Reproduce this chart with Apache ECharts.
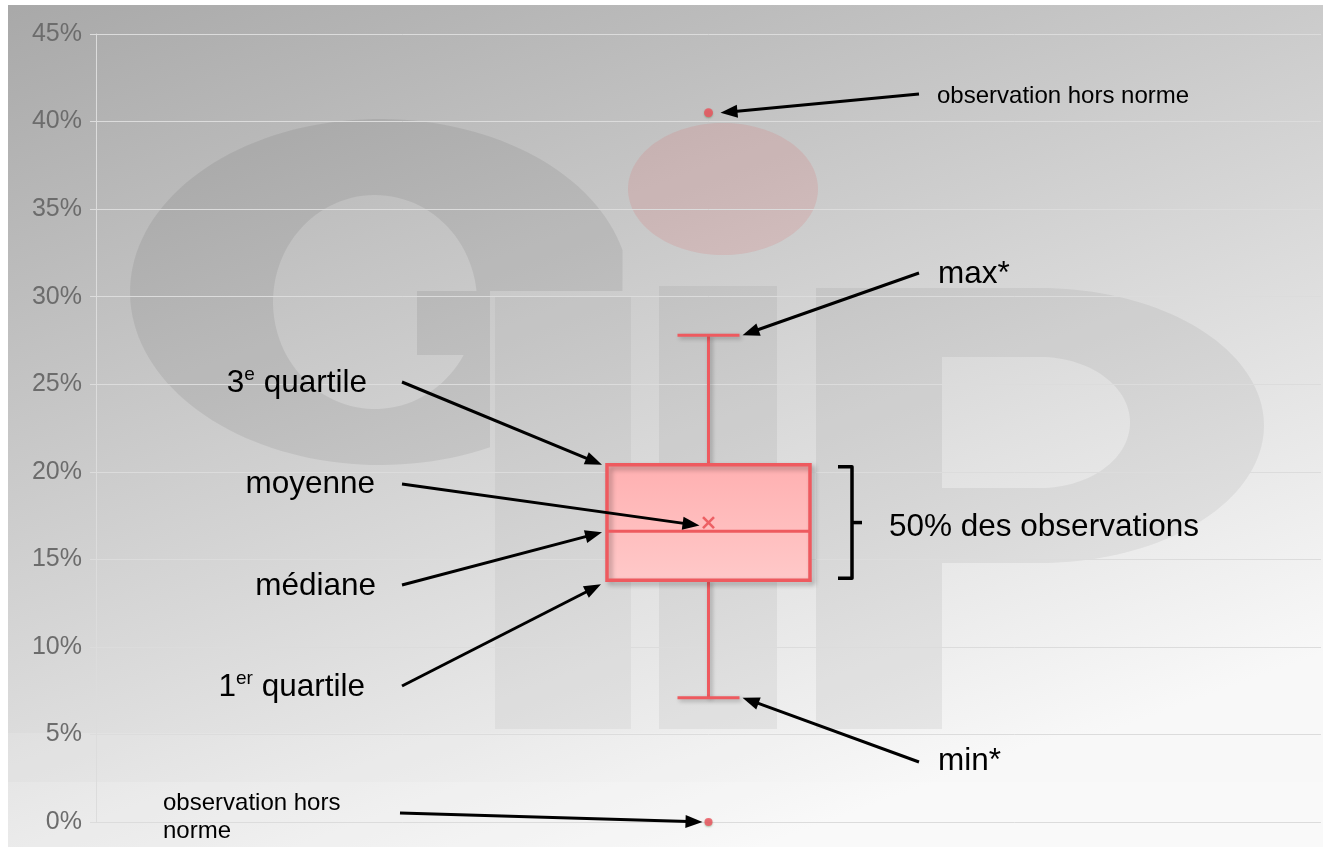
<!DOCTYPE html>
<html><head><meta charset="utf-8">
<script src="https://cdn.jsdelivr.net/npm/echarts@6/dist/echarts.min.js"></script>
<style>html,body{margin:0;padding:0;background:#fff}#c{width:1323px;height:847px}</style>
</head><body><div id="c"></div>
<script>
// ---- data ----
const categories = ['Série'];
const boxStats = [[7.1, 13.8, 16.6, 20.4, 27.8]];   // min, Q1, médiane, Q3, max
const meanValues = [17.1];
const outlierValues = [40.5, 0];
const yTickValues = [0, 5, 10, 15, 20, 25, 30, 35, 40, 45];
const yTickLabels = ['0%', '5%', '10%', '15%', '20%', '25%', '30%', '35%', '40%', '45%'];

// ---- style ----
const RED = '#ee5a5f';
const BOX_W = 203, CAP_W = 62;
const FONT = '"Liberation Sans", Arial, sans-serif';

// custom shape for the watermark (multi-contour polygon with holes, nonzero winding)
const Contours = echarts.graphic.extendShape({
  shape: {contours: []},
  buildPath: function (ctx, shape) {
    shape.contours.forEach(function (c) {
      c.forEach(function (p, i) { if (i) ctx.lineTo(p[0], p[1]); else ctx.moveTo(p[0], p[1]); });
      ctx.closePath();
    });
  }
});
echarts.graphic.registerShape('contours', Contours);

const chart = echarts.init(document.getElementById('c'), null, {renderer: 'canvas'});

function ellPts(cx, cy, rx, ry, t0, t1, n) {
  const pts = [];
  for (let i = 0; i <= n; i++) {
    const t = t0 + (t1 - t0) * i / n;
    pts.push([cx + rx * Math.cos(t), cy + ry * Math.sin(t)]);
  }
  return pts;
}
const gOuter = ellPts(380, 292, 250, 173, -0.2452, 1.115 - 2 * Math.PI, 120).concat([[490, 291], [622.5, 291]]);
const gHole = ellPts(375, 302, 102, 107, 0.518, 2 * Math.PI - 0.103, 100).concat([[417, 291], [417, 355]]);
const pOuter = [[816, 288]].concat(ellPts(1040, 425.5, 224, 137.5, -Math.PI / 2, Math.PI / 2, 80)).concat([[942, 563], [942, 729], [816, 729]]);
const pHole = [[942, 357], [942, 488]].concat(ellPts(1040, 422.5, 90, 65.5, Math.PI / 2, -Math.PI / 2, 60));

const bgGraphics = [
  {type: 'rect', z: -20, silent: true, shape: {x: 8, y: 5, width: 1315, height: 842},
   style: {fill: new echarts.graphic.LinearGradient(0, 0, 371, 1005, [
     {offset: 0, color: '#a8a8a8'}, {offset: 1, color: '#f8f8f8'}], true)}},
  {type: 'contours', z: -19, silent: true, shape: {contours: [gOuter, gHole]}, style: {fill: 'rgba(0,0,0,0.07)'}},
  {type: 'contours', z: -19, silent: true, shape: {contours: [pOuter, pHole]}, style: {fill: 'rgba(0,0,0,0.055)'}},
  {type: 'rect', z: -19, silent: true, shape: {x: 659, y: 286, width: 118, height: 443}, style: {fill: 'rgba(0,0,0,0.05)'}},
  {type: 'rect', z: -19, silent: true, shape: {x: 495, y: 297, width: 136, height: 432}, style: {fill: 'rgba(0,0,0,0.04)'}},
  {type: 'ellipse', z: -19, silent: true, shape: {cx: 723, cy: 189, rx: 95, ry: 66}, style: {fill: 'rgba(233,60,60,0.12)'}},
  {type: 'rect', z: -18, silent: true, shape: {x: 8, y: 733, width: 1315, height: 114}, style: {fill: 'rgba(255,255,255,0.12)'}},
  {type: 'rect', z: -18, silent: true, shape: {x: 8, y: 782, width: 1315, height: 65}, style: {fill: 'rgba(255,255,255,0.16)'}}
];

const boxData = boxStats.map((s, i) => [i].concat(s));
const meanData = meanValues.map((v, i) => [i, v]);
const outlierData = outlierValues.map(v => [0, v]);

const option = {
  backgroundColor: '#ffffff',
  animation: false,
  grid: {left: 96, right: 2, top: 34, bottom: 25, containLabel: false},
  xAxis: {
    type: 'category', data: categories,
    axisLine: {show: false}, axisTick: {show: false}, axisLabel: {show: false}, splitLine: {show: false}
  },
  yAxis: {
    type: 'value', min: 0, max: 45, interval: 5,
    axisLine: {show: true, lineStyle: {color: '#dcdcdc', width: 1}},
    axisTick: {show: true, length: 6, lineStyle: {color: '#dcdcdc', width: 1}},
    splitLine: {show: true, lineStyle: {color: '#dcdcdc', width: 1}},
    axisLabel: {
      margin: 14, color: '#6c6c6c', fontFamily: FONT, fontSize: 25,
      padding: [4, 0, 0, 0],
      formatter: v => yTickLabels[yTickValues.indexOf(v)]
    }
  },
  graphic: bgGraphics,
  series: [
    {
      type: 'custom', z: 3,
      data: boxData,
      encode: {x: 0, y: [1, 2, 3, 4, 5]},
      renderItem: function (params, api) {
        const x = api.value(0);
        const pMin = api.coord([x, api.value(1)]);
        const pQ1 = api.coord([x, api.value(2)]);
        const pMed = api.coord([x, api.value(3)]);
        const pQ3 = api.coord([x, api.value(4)]);
        const pMax = api.coord([x, api.value(5)]);
        const cx = pMed[0];
        const ls = {stroke: RED, lineWidth: 3, shadowBlur: 4, shadowOffsetX: 2, shadowOffsetY: 2, shadowColor: 'rgba(0,0,0,0.28)'};
        return {
          type: 'group', children: [
            {type: 'line', shape: {x1: cx, y1: pMax[1], x2: cx, y2: pQ3[1]}, style: ls},
            {type: 'line', shape: {x1: cx, y1: pQ1[1], x2: cx, y2: pMin[1]}, style: ls},
            {type: 'line', shape: {x1: cx - CAP_W / 2, y1: pMax[1], x2: cx + CAP_W / 2, y2: pMax[1]}, style: ls},
            {type: 'line', shape: {x1: cx - CAP_W / 2, y1: pMin[1], x2: cx + CAP_W / 2, y2: pMin[1]}, style: ls},
            {type: 'rect', shape: {x: cx - BOX_W / 2, y: pQ3[1], width: BOX_W, height: pQ1[1] - pQ3[1]},
             style: {
               fill: new echarts.graphic.LinearGradient(0, 0, 0, 1, [{offset: 0, color: '#ffb0b1'}, {offset: 1, color: '#ffc9c9'}]),
               stroke: RED, lineWidth: 3.5,
               shadowBlur: 5, shadowOffsetX: 3, shadowOffsetY: 3, shadowColor: 'rgba(0,0,0,0.3)'}},
            {type: 'line', shape: {x1: cx - BOX_W / 2, y1: pMed[1], x2: cx + BOX_W / 2, y2: pMed[1]}, style: {stroke: RED, lineWidth: 3}}
          ]
        };
      }
    },
    {
      type: 'scatter', z: 4, data: meanData,
      symbol: 'path://M0,0L10,10M10,0L0,10', symbolSize: 11,
      itemStyle: {color: 'rgba(0,0,0,0)', borderColor: '#e8484d', borderWidth: 2.6}
    },
    {
      type: 'scatter', z: 4, data: outlierData,
      symbolSize: (v) => v[1] > 1 ? 9 : 8,
      itemStyle: {color: '#f0505c', shadowBlur: 2, shadowColor: 'rgba(60,120,60,0.5)', shadowOffsetY: 1}
    }
  ]
};
chart.setOption(option);

// ---- annotations (anchored on data through the axes) ----
function px(v) { return chart.convertToPixel({xAxisIndex: 0, yAxisIndex: 0}, [0, v]); }
function arrow(x1, y1, x2, y2) {
  const dx = x2 - x1, dy = y2 - y1, L = Math.hypot(dx, dy), ux = dx / L, uy = dy / L;
  const hl = 17, hw = 6.5;
  const bx = x2 - ux * hl, by = y2 - uy * hl;
  return [
    {type: 'line', z: 100, shape: {x1: x1, y1: y1, x2: bx + ux * 3, y2: by + uy * 3}, style: {stroke: '#000', lineWidth: 3}},
    {type: 'polygon', z: 100, shape: {points: [[x2, y2], [bx - uy * hw, by + ux * hw], [bx + uy * hw, by - ux * hw]]}, style: {fill: '#000'}}
  ];
}
function label(text, x, y, size, align, rich) {
  const st = {text: text, fill: '#000', font: size + 'px ' + FONT, align: align, verticalAlign: 'middle'};
  if (rich) st.rich = rich;
  return {type: 'text', z: 100, x: x, y: y, style: st};
}
const s = boxStats[0];
const pMin = px(s[0]), pQ1 = px(s[1]), pMed = px(s[2]), pQ3 = px(s[3]), pMax = px(s[4]);
const pMean = px(meanValues[0]);
const pOutTop = px(outlierValues[0]), pOutBot = px(outlierValues[1]);
const cx = pMed[0];
const boxL = cx - BOX_W / 2;
const sup = {sup: {fontSize: 19, fontFamily: FONT, fill: '#000', verticalAlign: 'top', lineHeight: 36}, n: {fontSize: 31.5, fontFamily: FONT, fill: '#000', lineHeight: 36}};

let ann = [];
ann = ann.concat(arrow(919, 94, pOutTop[0] + 12, pOutTop[1]));
ann = ann.concat(arrow(919, 273, cx + CAP_W / 2 + 3, pMax[1]));
ann = ann.concat(arrow(402, 382, boxL - 5, pQ3[1]));
ann = ann.concat(arrow(402, 484, pMean[0] - 9, pMean[1] + 3));
ann = ann.concat(arrow(402, 585, boxL - 5, pMed[1] + 1));
ann = ann.concat(arrow(402, 686, boxL - 6, pQ1[1] + 4));
ann = ann.concat(arrow(919, 762, cx + CAP_W / 2 + 3, pMin[1]));
ann = ann.concat(arrow(400, 813, pOutBot[0] - 6, pOutBot[1]));

// bracket for the inter-quartile range
const bt = pQ3[1] + 2, bb = pQ1[1] - 2, bm = (bt + bb) / 2;
ann.push({type: 'polyline', z: 100, shape: {points: [[838, bt], [852, bt], [852, bb], [838, bb]]},
  style: {stroke: '#000', lineWidth: 3.5, fill: null, lineJoin: 'round'}});
ann.push({type: 'line', z: 100, shape: {x1: 852, y1: bm, x2: 862, y2: bm}, style: {stroke: '#000', lineWidth: 3.5}});

ann.push(label('observation hors norme', 937, 96, 24, 'left'));
ann.push(label('max*', 938, 274, 31.5, 'left'));
ann.push(label('min*', 938, 761, 31.5, 'left'));
ann.push(label('50% des observations', 889, 527, 31.5, 'left'));
ann.push(label('{n|3}{sup|e}{n| quartile}', 367, 383, 31.5, 'right', sup));
ann.push(label('moyenne', 375, 484, 31.5, 'right'));
ann.push(label('médiane', 376, 586, 31.5, 'right'));
ann.push(label('{n|1}{sup|er}{n| quartile}', 365, 687, 31.5, 'right', sup));
ann.push({type: 'text', z: 100, x: 163, y: 789, style: {text: 'observation hors\nnorme', fill: '#000', font: '24px ' + FONT, align: 'left', verticalAlign: 'top', lineHeight: 28}});

chart.setOption({graphic: bgGraphics.concat(ann)});
</script>
</body></html>
